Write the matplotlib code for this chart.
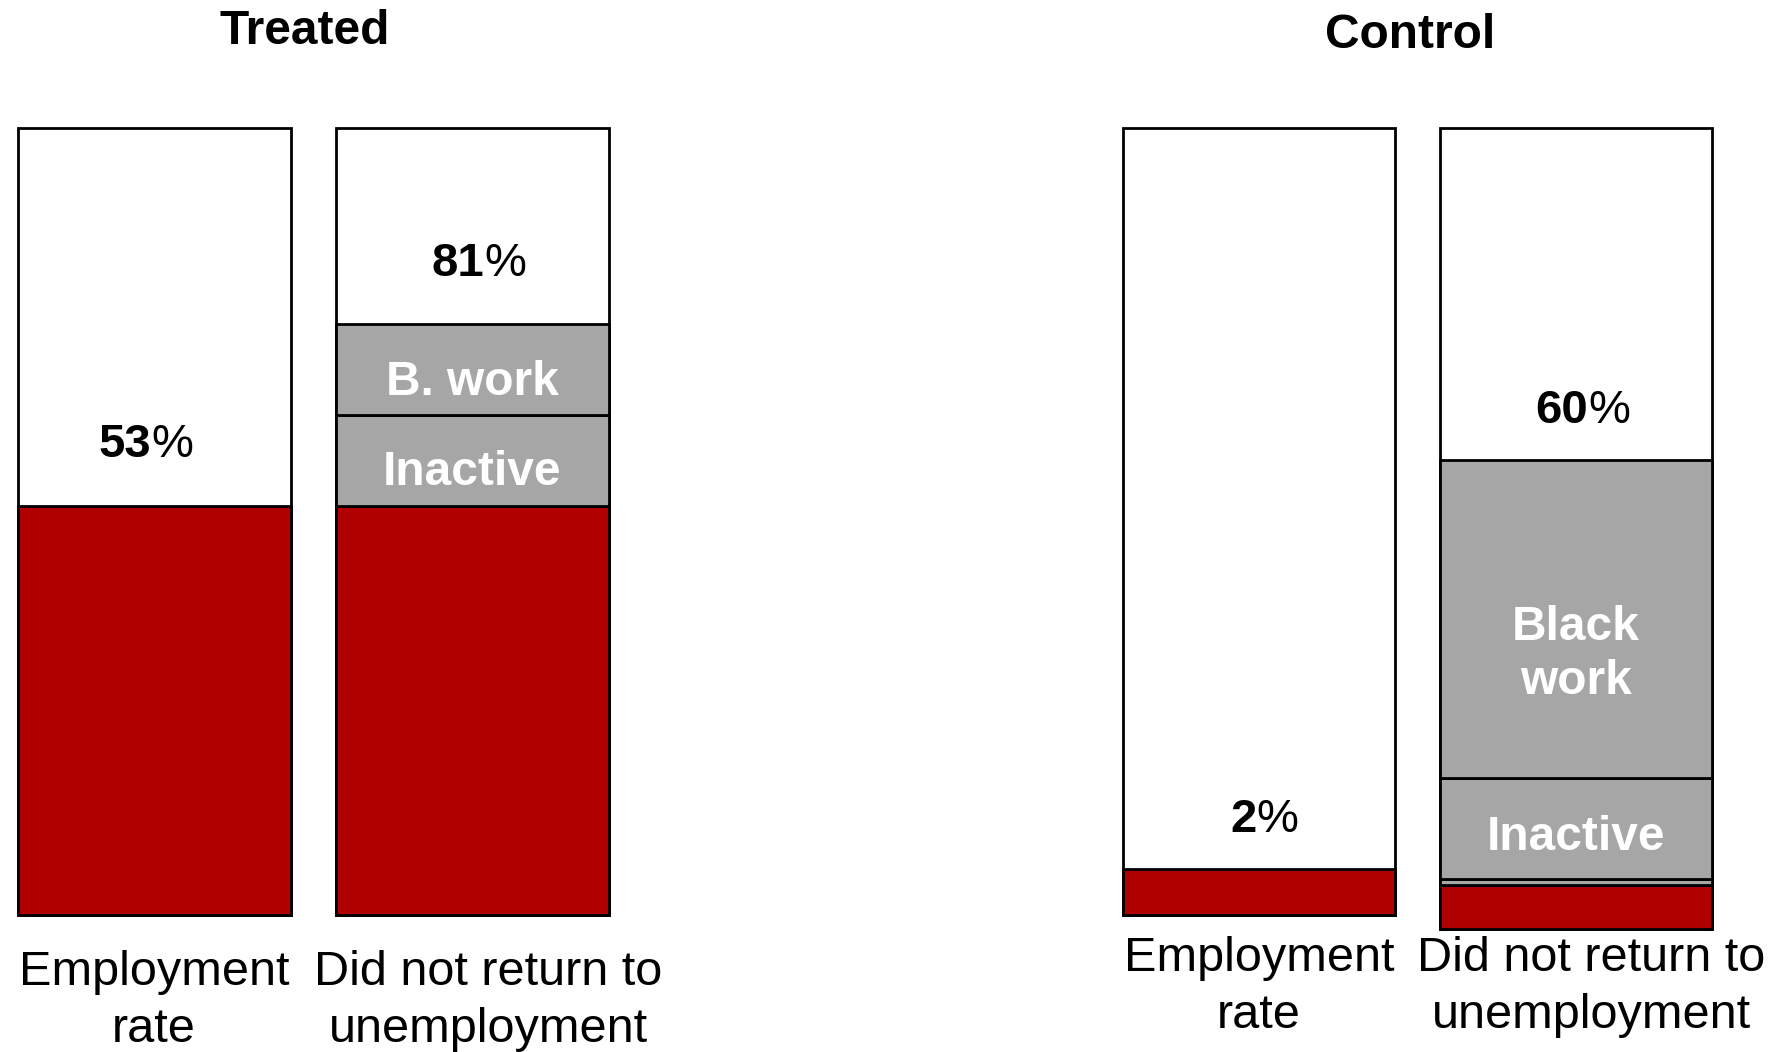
import matplotlib.pyplot as plt

# Data (percent of bar height)
groups = ["Treated", "Control"]
bar_names = ["Employment\nrate", "Did not return to\nunemployment"]

treated_employment = [52.0]
treated_return = [52.0, 11.5, 11.6]          # employed, inactive, black work
treated_labels = ["53%", "81%"]
treated_seg_labels = ["", "Inactive", "B. work"]

control_employment = [5.8]
control_return = [5.5, 0.75, 12.6, 39.7]     # employed, other, inactive, black work
control_labels = ["2%", "60%"]
control_seg_labels = ["", "", "Inactive", "Black\nwork"]

RED = "#B00000"
GRAY = "#A6A6A6"
W, H = 1778, 1052

plt.rcParams['font.family'] = ['Liberation Sans', 'DejaVu Sans']

fig = plt.figure(figsize=(W / 100, H / 100), dpi=100)


def px_axes(x0, x1, top, bottom):
    return fig.add_axes([x0 / W, 1 - bottom / H, (x1 - x0) / W, (bottom - top) / H])


def draw_bar(ax, values, seg_labels, seg_shift, pct, pct_x, pct_y):
    ax.set_xlim(-0.5, 0.5)
    ax.set_ylim(0, 100)
    ax.axis('off')
    ax.bar(0, 100, width=1, color='white', edgecolor='black', linewidth=2, clip_on=False)
    bottom = 0
    for i, v in enumerate(values):
        col = RED if i == 0 else GRAY
        ax.bar(0, v, bottom=bottom, width=1, color=col, edgecolor='black',
               linewidth=2, clip_on=False)
        if seg_labels[i]:
            ax.text(0, bottom + v / 2 - seg_shift[i], seg_labels[i], ha='center', va='center',
                    color='white', fontsize=34.5, fontweight='bold', linespacing=1.25)
        bottom += v
    # bold number, regular percent sign
    ax.text(pct_x, pct_y, pct[:-1], ha='right', va='center', fontsize=34, fontweight='bold')
    ax.text(pct_x, pct_y, "%", ha='left', va='center', fontsize=34)


ax1 = px_axes(18, 291, 128, 915)
draw_bar(ax1, treated_employment, [""], [0], treated_labels[0], -0.012, 59.7)
ax2 = px_axes(336, 609, 128, 915)
draw_bar(ax2, treated_return, treated_seg_labels, [0, 1.5, 1.6], treated_labels[1], 0.042, 82.7)
ax3 = px_axes(1123, 1395, 128, 915)
draw_bar(ax3, control_employment, [""], [0], control_labels[0], -0.008, 12.1)
ax4 = px_axes(1440, 1712, 128, 929)
draw_bar(ax4, control_return, control_seg_labels, [0, 0, 1.1, 4.4], control_labels[1], 0.044, 64.7)

# titles
fig.text(305 / W, 1 - 32 / H, groups[0], ha='center', va='center', fontsize=34.5, fontweight='bold')
fig.text(1410 / W, 1 - 35 / H, groups[1], ha='center', va='center', fontsize=34.5, fontweight='bold')

# category labels under the bars
for xc, mid, name in [(154, 1001, bar_names[0]), (488, 1001, bar_names[1]),
                      (1259, 987, bar_names[0]), (1591, 987, bar_names[1])]:
    fig.text(xc / W, 1 - mid / H, name, ha='center', va='center', fontsize=35, linespacing=1.36)

fig.savefig("out.png", dpi=100)
